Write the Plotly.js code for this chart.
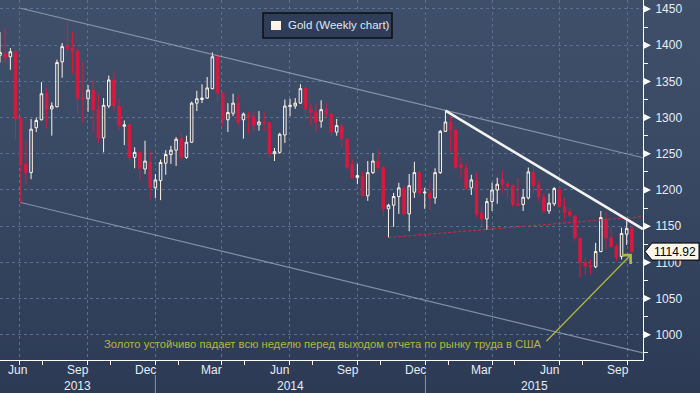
<!DOCTYPE html>
<html><head><meta charset="utf-8">
<script src="https://cdn.plot.ly/plotly-3.0.1.min.js"></script>
<style>
html,body{margin:0;padding:0;background:#2c3a54;}
#chart{width:700px;height:393px;background:linear-gradient(to bottom,#3f4f6a 0px,#3a4964 150px,#33425d 260px,#2e3c57 360px,#2c3a54 393px);}
</style></head><body><div id="chart"></div><script>
// Weekly candles (week-ending Friday)
const dates = ['2013-05-31','2013-06-07','2013-06-14','2013-06-21','2013-06-28','2013-07-05','2013-07-12','2013-07-19','2013-07-26','2013-08-02','2013-08-09','2013-08-16','2013-08-23','2013-08-30','2013-09-06','2013-09-13','2013-09-20','2013-09-27','2013-10-04','2013-10-11','2013-10-18','2013-10-25','2013-11-01','2013-11-08','2013-11-15','2013-11-22','2013-11-29','2013-12-06','2013-12-13','2013-12-20','2013-12-27','2014-01-03','2014-01-10','2014-01-17','2014-01-24','2014-01-31','2014-02-07','2014-02-14','2014-02-21','2014-02-28','2014-03-07','2014-03-14','2014-03-21','2014-03-28','2014-04-04','2014-04-11','2014-04-18','2014-04-25','2014-05-02','2014-05-09','2014-05-16','2014-05-23','2014-05-30','2014-06-06','2014-06-13','2014-06-20','2014-06-27','2014-07-04','2014-07-11','2014-07-18','2014-07-25','2014-08-01','2014-08-08','2014-08-15','2014-08-22','2014-08-29','2014-09-05','2014-09-12','2014-09-19','2014-09-26','2014-10-03','2014-10-10','2014-10-17','2014-10-24','2014-10-31','2014-11-07','2014-11-14','2014-11-21','2014-11-28','2014-12-05','2014-12-12','2014-12-19','2014-12-26','2015-01-02','2015-01-09','2015-01-16','2015-01-23','2015-01-30','2015-02-06','2015-02-13','2015-02-20','2015-02-27','2015-03-06','2015-03-13','2015-03-20','2015-03-27','2015-04-03','2015-04-10','2015-04-17','2015-04-24','2015-05-01','2015-05-08','2015-05-15','2015-05-22','2015-05-29','2015-06-05','2015-06-12','2015-06-19','2015-06-26','2015-07-03','2015-07-10','2015-07-17','2015-07-24','2015-07-31','2015-08-07','2015-08-14','2015-08-21','2015-08-28','2015-09-04','2015-09-11','2015-09-18','2015-09-25','2015-10-02'];
const openV  = [1386,1388,1384,1391,1300,1236,1224,1286,1297,1333,1312,1315,1377,1399,1396,1392,1327,1326,1338,1311,1272,1316,1352,1316,1288,1290,1245,1252,1229,1239,1203,1213,1237,1249,1255,1271,1245,1266,1320,1325,1327,1340,1384,1334,1297,1306,1320,1297,1304,1301,1290,1294,1293,1250,1252,1276,1315,1316,1320,1340,1312,1307,1295,1311,1305,1280,1288,1270,1235,1217,1219,1192,1224,1240,1231,1174,1179,1191,1202,1167,1197,1224,1196,1196,1189,1224,1281,1294,1283,1235,1230,1203,1213,1168,1160,1184,1200,1215,1208,1206,1181,1180,1189,1224,1207,1190,1171,1181,1201,1177,1170,1164,1133,1100,1096,1094,1115,1160,1134,1122,1108,1139,1147];
const highV  = [1418,1424,1396,1393,1302,1268,1298,1300,1349,1340,1321,1380,1403,1434,1418,1395,1377,1345,1354,1333,1327,1358,1363,1327,1296,1292,1259,1253,1268,1254,1222,1242,1255,1261,1273,1280,1275,1322,1337,1346,1356,1390,1393,1336,1320,1333,1332,1307,1308,1308,1309,1307,1294,1258,1279,1325,1326,1327,1346,1344,1320,1319,1324,1320,1307,1298,1293,1272,1243,1236,1226,1240,1251,1256,1233,1181,1196,1210,1206,1222,1239,1227,1203,1210,1230,1283,1309,1302,1285,1246,1238,1221,1224,1177,1189,1210,1217,1227,1212,1208,1217,1201,1231,1233,1213,1196,1195,1204,1205,1189,1175,1166,1135,1107,1104,1127,1171,1170,1149,1126,1148,1158,1151];
const lowV   = [1376,1375,1366,1270,1181,1208,1215,1280,1296,1285,1275,1314,1355,1391,1361,1306,1293,1308,1279,1265,1252,1313,1308,1283,1262,1240,1230,1212,1222,1187,1189,1186,1221,1236,1233,1240,1243,1265,1309,1320,1326,1339,1322,1288,1280,1302,1289,1271,1278,1280,1282,1282,1244,1240,1250,1265,1302,1312,1319,1296,1289,1280,1286,1300,1275,1275,1259,1229,1216,1208,1191,1185,1222,1228,1164,1134,1149,1167,1166,1143,1189,1192,1174,1172,1181,1222,1280,1253,1229,1217,1200,1193,1162,1148,1145,1171,1181,1196,1190,1177,1178,1171,1187,1194,1185,1168,1167,1178,1176,1160,1162,1130,1079,1083,1083,1092,1114,1118,1120,1102,1104,1124,1113];
const closeV = [1390,1383,1391,1298,1236,1224,1284,1296,1333,1312,1316,1376,1398,1395,1391,1327,1326,1338,1311,1272,1317,1352,1317,1289,1290,1245,1252,1230,1240,1203,1214,1238,1249,1255,1270,1245,1266,1320,1326,1327,1341,1384,1334,1297,1307,1320,1293,1305,1300,1289,1294,1293,1250,1253,1277,1316,1317,1320,1340,1312,1307,1294,1311,1305,1280,1289,1271,1231,1217,1220,1192,1224,1240,1231,1174,1179,1191,1203,1167,1206,1224,1196,1197,1189,1224,1281,1294,1283,1231,1231,1203,1214,1167,1160,1184,1200,1208,1208,1205,1180,1179,1190,1225,1206,1191,1171,1182,1202,1177,1169,1165,1134,1100,1095,1094,1115,1162,1134,1122,1107,1140,1147,1114.92];

// Overlay lines (endpoints)
const upperChannelX = ['2013-07-03','2015-10-22'];
const upperChannelY = [1451,1244.5];
const lowerChannelX = ['2013-07-03','2015-10-22'];
const lowerChannelY = [1182.7,975];
const trendX = ['2015-01-28','2015-10-22'];
const trendY = [1309.5,1146];
const supportX = ['2014-11-12','2015-10-22'];
const supportY = [1134.4,1163.3];

// Axis labels
const quarterTicks = ['2013-07-01','2013-10-01','2014-01-01','2014-04-01','2014-07-01','2014-10-01','2015-01-01','2015-04-01','2015-07-01','2015-10-01'];
const minorMonthTicks = ['2013-08-01','2013-11-01','2014-02-01','2014-05-01','2014-08-01','2014-11-01','2015-02-01','2015-05-01','2015-08-01'];
const monthLabelX = ['2013-06-28','2013-09-18','2013-12-18','2014-03-18','2014-06-18','2014-09-18','2014-12-18','2015-03-18','2015-06-18','2015-09-18'];
const monthLabelText = ['Jun','Sep','Dec','Mar','Jun','Sep','Dec','Mar','Jun','Sep'];
const yearBreaks = ['2014-01-01','2015-01-01'];
const yearLabelX = ['2013-09-18','2014-07-02','2015-05-28'];
const yearLabelText = ['2013','2014','2015'];
const yTicks = [1000,1050,1100,1150,1200,1250,1300,1350,1400,1450];
const yMinorTicks = [975,1025,1075,1125,1175,1225,1275,1325,1375,1425];
const lastPrice = 1114.92;
const legendText = 'Gold (Weekly chart)';
const noteText = 'Золото устойчиво падает всю неделю перед выходом отчета по рынку труда в США';

const FONT = '"Liberation Sans", Arial, sans-serif';
const WEEK = 7*24*3600*1000;

const traces = [
  {type:'scatter', mode:'lines', x:upperChannelX, y:upperChannelY, line:{color:'rgba(185,195,212,0.6)', width:1.2}, hoverinfo:'skip'},
  {type:'scatter', mode:'lines', x:lowerChannelX, y:lowerChannelY, line:{color:'rgba(185,195,212,0.6)', width:1.2}, hoverinfo:'skip'},
  {type:'candlestick', x:dates, open:openV, high:highV, low:lowV, close:closeV,
   xperiod:WEEK, xperiod0:'2013-06-05', xperiodalignment:'end',
   increasing:{line:{color:'#fdf3e7', width:1}, fillcolor:'rgba(0,0,0,0)'},
   decreasing:{line:{color:'#d8193f', width:1}, fillcolor:'#d8193f'},
   whiskerwidth:0, hoverinfo:'skip'},
  {type:'scatter', mode:'lines', x:supportX, y:supportY, line:{color:'#d42a3c', width:1, dash:'3px,2px'}, hoverinfo:'skip'},
  {type:'scatter', mode:'lines', x:trendX, y:trendY, line:{color:'#f2f2f2', width:2.6}, hoverinfo:'skip'}
];

const shapes = [];
yearBreaks.forEach(d => shapes.push({type:'line', xref:'x', yref:'paper', x0:d, x1:d, y0:-0.042, y1:-0.095, line:{color:'#8796ad', width:1}}));
yTicks.forEach(v => shapes.push({type:'path', xref:'paper', yref:'y', xsizemode:'pixel', ysizemode:'pixel', xanchor:1, yanchor:v, path:'M1,-3.5L8,0L1,3.5Z', fillcolor:'#ffffff', line:{width:0}}));
// last price tag
shapes.push({type:'path', xref:'paper', yref:'y', xsizemode:'pixel', ysizemode:'pixel', xanchor:1, yanchor:lastPrice, path:'M2,0L9,8.5L56,8.5L56,-8.5L9,-8.5Z', fillcolor:'#fdf6ea', line:{color:'#000000', width:1}});
// legend box
shapes.push({type:'rect', xref:'paper', yref:'paper', x0:263/643, x1:392/643, y0:(360-38)/360, y1:(360-13)/360, fillcolor:'#2f3d58', line:{color:'#0d0f14', width:1.5}});
shapes.push({type:'rect', xref:'paper', yref:'paper', x0:271/643, x1:281/643, y0:(360-30)/360, y1:(360-21)/360, fillcolor:'#fff4ea', line:{width:0}});

const annotations = [];
monthLabelX.forEach((d,i) => annotations.push({x:d, y:-0.029, xref:'x', yref:'paper', text:monthLabelText[i], showarrow:false, xanchor:'center', yanchor:'middle', font:{family:FONT, size:12, color:'#e6edf6'}}));
yearLabelX.forEach((d,i) => annotations.push({x:d, y:-0.071, xref:'x', yref:'paper', text:yearLabelText[i], showarrow:false, xanchor:'center', yanchor:'middle', font:{family:FONT, size:12, color:'#e6edf6'}}));
annotations.push({x:1, y:lastPrice, xref:'paper', yref:'y', xanchor:'left', yanchor:'middle', xshift:9, text:lastPrice.toFixed(2), showarrow:false, font:{family:FONT, size:12, color:'#000000'}});
annotations.push({x:286/643, y:(360-25.5)/360, xref:'paper', yref:'paper', xanchor:'left', yanchor:'middle', text:legendText, showarrow:false, font:{family:FONT, size:11.5, color:'#dfe7f1'}});
annotations.push({x:322/643, y:(360-344)/360, xref:'paper', yref:'paper', xanchor:'center', yanchor:'middle', text:noteText, showarrow:false, font:{family:FONT, size:11.2, color:'#b3b83e'}});
// arrow to the last candle
const lastShown = new Date(Date.parse(dates[dates.length-1]) + 5*24*3600*1000).toISOString().slice(0,10);
annotations.push({x:lastShown, y:lowV[lowV.length-1]-1, xref:'x', yref:'y', text:'', showarrow:true, ax:-87, ay:89, arrowhead:4, arrowsize:2, arrowwidth:1.2, arrowcolor:'#b3b83e', standoff:0});

const layout = {
  width:700, height:393,
  margin:{l:0, r:57, t:0, b:33, pad:0},
  paper_bgcolor:'rgba(0,0,0,0)', plot_bgcolor:'rgba(0,0,0,0)',
  showlegend:false, hovermode:false,
  font:{family:FONT, size:12, color:'#e6edf6'},
  xaxis:{type:'date', range:['2013-06-05','2015-10-22'], rangeslider:{visible:false}, fixedrange:true,
    tickmode:'array', tickvals:quarterTicks, showticklabels:false, ticks:'outside', ticklen:4, tickcolor:'#ffffff',
    showgrid:true, gridcolor:'#587190', griddash:'3px,3px', gridwidth:1,
    minor:{tickmode:'array', tickvals:minorMonthTicks, ticks:'outside', ticklen:4, tickcolor:'#ffffff', showgrid:false},
    showline:true, linecolor:'#ffffff', linewidth:1, zeroline:false},
  yaxis:{side:'right', range:[965.2,1462.4], fixedrange:true,
    tickmode:'array', tickvals:yTicks, ticks:'', ticklabelstandoff:9,
    tickfont:{family:FONT, size:12, color:'#e6edf6'},
    showgrid:true, gridcolor:'#587190', griddash:'3px,3px', gridwidth:1,
    minor:{tickmode:'array', tickvals:yMinorTicks, ticks:'outside', ticklen:4, tickcolor:'#ffffff', showgrid:false},
    showline:true, linecolor:'#ffffff', linewidth:1, zeroline:false},
  shapes:shapes, annotations:annotations
};

Plotly.newPlot('chart', traces, layout, {staticPlot:true, displayModeBar:false});
</script></body></html>
